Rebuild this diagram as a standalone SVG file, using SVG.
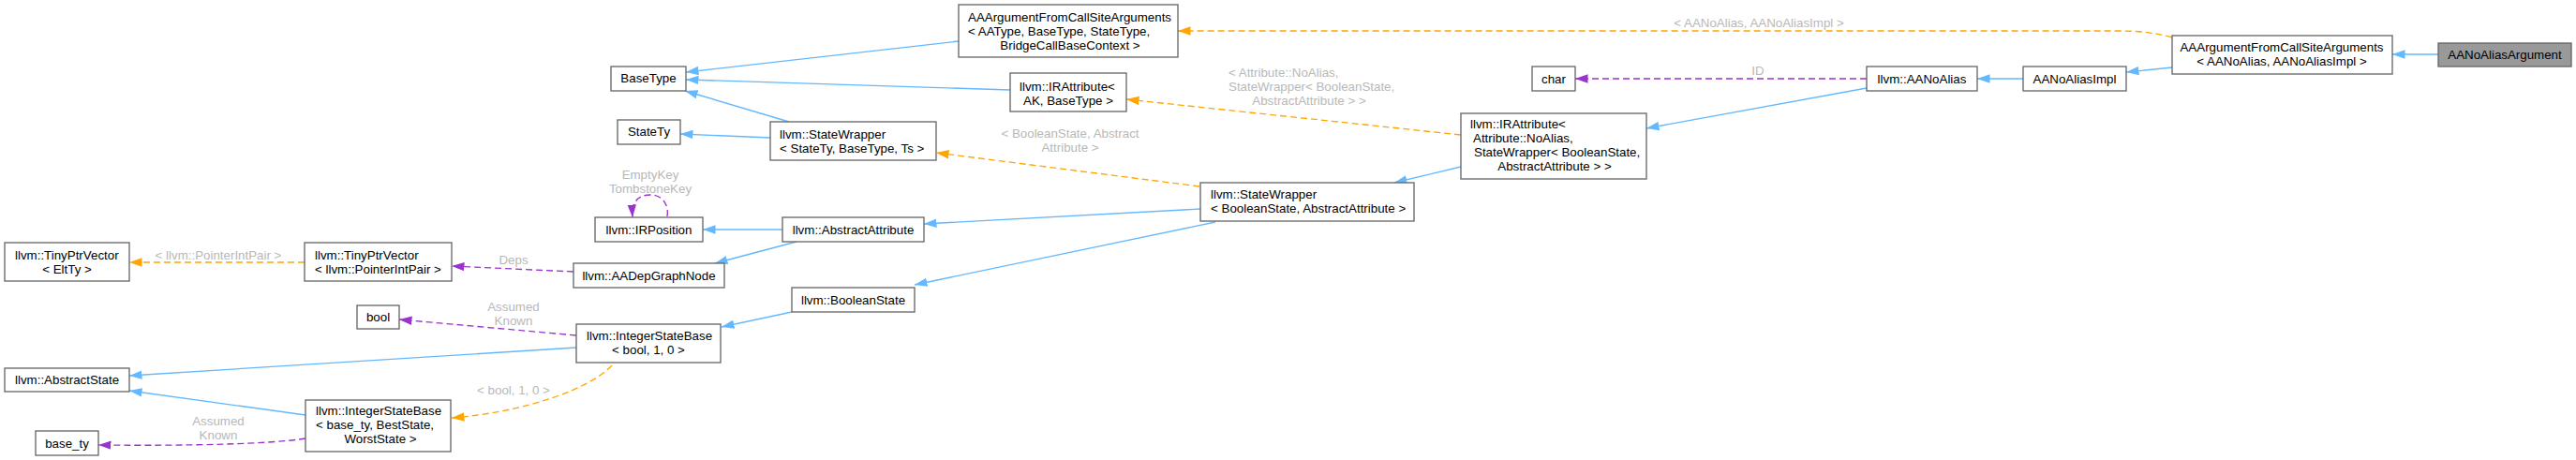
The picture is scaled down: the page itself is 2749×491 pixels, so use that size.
<svg xmlns="http://www.w3.org/2000/svg" width="2749" height="491" viewBox="0 0 2749 491">
<style>
text{font-family:"Liberation Sans",Arial,Helvetica,sans-serif;font-size:13.33px;fill:#000}
.n rect{fill:#fff;stroke:#666;stroke-width:1.33}
.n.hl rect{fill:#999}
.c{text-anchor:middle}
.lbl{fill:#b8b8b8;font-size:13.33px}
.e path{fill:none;stroke-width:1.33}
.b{stroke:#63b8ff}
.o{stroke:#ffa500;stroke-dasharray:7,4}
.p{stroke:#9a32cd;stroke-dasharray:7,4}
</style>
<defs>
<marker id="ab" markerUnits="userSpaceOnUse" markerWidth="14" markerHeight="10" viewBox="0 0 14 10" refX="13.5" refY="5" orient="auto"><path d="M0,0.3 L13.5,5 L0,9.7 z" fill="#63b8ff"/></marker>
<marker id="ao" markerUnits="userSpaceOnUse" markerWidth="14" markerHeight="10" viewBox="0 0 14 10" refX="13.5" refY="5" orient="auto"><path d="M0,0.3 L13.5,5 L0,9.7 z" fill="#ffa500"/></marker>
<marker id="ap" markerUnits="userSpaceOnUse" markerWidth="14" markerHeight="10" viewBox="0 0 14 10" refX="13.5" refY="5" orient="auto"><path d="M0,0.3 L13.5,5 L0,9.7 z" fill="#9a32cd"/></marker>
</defs>
<rect width="2749" height="491" fill="#fff"/>
<g id="connectors" class="e">
<path class="b" d="M2602,58 L2553,58" marker-end="url(#ab)"/>
<path class="b" d="M2318,72 L2269,77" marker-end="url(#ab)"/>
<path class="b" d="M2159,84 L2110,84" marker-end="url(#ab)"/>
<path class="b" d="M1992,94 L1757,137" marker-end="url(#ab)"/>
<path class="p" d="M1992,84 L1681,84" marker-end="url(#ap)"/>
<path class="o" d="M2318,40 C2300,35 2285,33 2260,33 L1257,33" marker-end="url(#ao)"/>
<path class="b" d="M1559,178 L1488,195" marker-end="url(#ab)"/>
<path class="o" d="M1559,144 L1202,106" marker-end="url(#ao)"/>
<path class="o" d="M1280,199 L999,163" marker-end="url(#ao)"/>
<path class="b" d="M1281,223 L986,239" marker-end="url(#ab)"/>
<path class="b" d="M1297,237 L976,304" marker-end="url(#ab)"/>
<path class="b" d="M1023,44 L732,77" marker-end="url(#ab)"/>
<path class="b" d="M1078,96 L732,85" marker-end="url(#ab)"/>
<path class="b" d="M842,130 L731,97" marker-end="url(#ab)"/>
<path class="b" d="M822,147 L726,143" marker-end="url(#ab)"/>
<path class="b" d="M835,245 L750,245" marker-end="url(#ab)"/>
<path class="b" d="M850,258 L763,281" marker-end="url(#ab)"/>
<path class="p" d="M612,290 L482,284" marker-end="url(#ap)"/>
<path class="o" d="M325,280 L138,280" marker-end="url(#ao)"/>
<path class="b" d="M845,333 L770,349" marker-end="url(#ab)"/>
<path class="p" d="M615,358 L426,341" marker-end="url(#ap)"/>
<path class="b" d="M615,371 L138,401" marker-end="url(#ab)"/>
<path class="o" d="M653,390 C630,415 560,440 482,446" marker-end="url(#ao)"/>
<path class="b" d="M326,443 L138,417" marker-end="url(#ab)"/>
<path class="p" d="M326,468 C290,474 200,476 105,475" marker-end="url(#ap)"/>
<path class="p" d="M712,231 C714,220 708,208 694,208 C682,208 674,214 675,232" marker-end="url(#ap)"/>
<text class="lbl c" x="1877" y="29">&lt; AANoAlias, AANoAliasImpl &gt;</text>
<text class="lbl c" x="1876" y="80">ID</text>
<text class="lbl" x="1311" y="82">&lt; Attribute::NoAlias,</text>
<text class="lbl" x="1311" y="97">StateWrapper&lt; BooleanState,</text>
<text class="lbl c" x="1397" y="112">AbstractAttribute &gt; &gt;</text>
<text class="lbl c" x="1142" y="147">&lt; BooleanState, Abstract</text>
<text class="lbl c" x="1142" y="162">Attribute &gt;</text>
<text class="lbl c" x="694" y="191">EmptyKey</text>
<text class="lbl c" x="694" y="206">TombstoneKey</text>
<text class="lbl c" x="548" y="282">Deps</text>
<text class="lbl c" x="233" y="277">&lt; llvm::PointerIntPair &gt;</text>
<text class="lbl c" x="548" y="332">Assumed</text>
<text class="lbl c" x="548" y="347">Known</text>
<text class="lbl c" x="548" y="421">&lt; bool, 1, 0 &gt;</text>
<text class="lbl c" x="233" y="454">Assumed</text>
<text class="lbl c" x="233" y="469">Known</text>
</g>
<g id="AANoAliasArgument" class="n hl"><rect x="2602" y="46" width="142" height="25"/><text class="c" x="2673" y="63">AANoAliasArgument</text></g>
<g id="AAArgFromCSA_AANoAlias" class="n"><rect x="2318" y="38" width="235" height="41"/><text class="c" x="2435" y="55">AAArgumentFromCallSiteArguments</text><text class="c" x="2435" y="70">&lt; AANoAlias, AANoAliasImpl &gt;</text></g>
<g id="AANoAliasImpl" class="n"><rect x="2159" y="71" width="110" height="26"/><text class="c" x="2214" y="89">AANoAliasImpl</text></g>
<g id="llvm_AANoAlias" class="n"><rect x="1992" y="71" width="118" height="26"/><text class="c" x="2051" y="89">llvm::AANoAlias</text></g>
<g id="AAArgFromCSA_generic" class="n"><rect x="1023" y="5" width="234" height="56"/><text x="1033" y="23">AAArgumentFromCallSiteArguments</text><text x="1033" y="38">&lt; AAType, BaseType, StateType,</text><text class="c" x="1142" y="53">BridgeCallBaseContext &gt;</text></g>
<g id="char" class="n"><rect x="1635" y="71" width="46" height="26"/><text class="c" x="1658" y="89">char</text></g>
<g id="IRAttribute_NoAlias" class="n"><rect x="1559" y="121" width="198" height="70"/><text x="1569" y="137">llvm::IRAttribute&lt;</text><text x="1572" y="152">Attribute::NoAlias,</text><text x="1573" y="167">StateWrapper&lt; BooleanState,</text><text class="c" x="1659" y="182">AbstractAttribute &gt; &gt;</text></g>
<g id="IRAttribute_AK" class="n"><rect x="1078" y="78" width="124" height="41"/><text x="1088" y="97">llvm::IRAttribute&lt;</text><text class="c" x="1140" y="112">AK, BaseType &gt;</text></g>
<g id="StateWrapper_BooleanState" class="n"><rect x="1281" y="195" width="228" height="41"/><text x="1292" y="212">llvm::StateWrapper</text><text x="1292" y="227">&lt; BooleanState, AbstractAttribute &gt;</text></g>
<g id="BaseType" class="n"><rect x="652" y="71" width="80" height="26"/><text class="c" x="692" y="88">BaseType</text></g>
<g id="StateTy" class="n"><rect x="659" y="128" width="67" height="26"/><text class="c" x="692.5" y="145">StateTy</text></g>
<g id="StateWrapper_StateTy" class="n"><rect x="822" y="130" width="177" height="41"/><text x="832" y="148">llvm::StateWrapper</text><text x="832" y="163">&lt; StateTy, BaseType, Ts &gt;</text></g>
<g id="IRPosition" class="n"><rect x="635" y="232" width="115" height="26"/><text class="c" x="692.5" y="250">llvm::IRPosition</text></g>
<g id="AbstractAttribute" class="n"><rect x="835" y="232" width="151" height="26"/><text class="c" x="910.5" y="250">llvm::AbstractAttribute</text></g>
<g id="AADepGraphNode" class="n"><rect x="612" y="281" width="161" height="26"/><text class="c" x="692.5" y="299">llvm::AADepGraphNode</text></g>
<g id="BooleanState" class="n"><rect x="845" y="307" width="131" height="26"/><text class="c" x="910.5" y="325">llvm::BooleanState</text></g>
<g id="TinyPtrVector_EltTy" class="n"><rect x="5" y="259" width="133" height="41"/><text x="16" y="277">llvm::TinyPtrVector</text><text class="c" x="71.5" y="292">&lt; EltTy &gt;</text></g>
<g id="TinyPtrVector_PIP" class="n"><rect x="325" y="259" width="157" height="41"/><text x="336" y="277">llvm::TinyPtrVector</text><text x="336" y="292">&lt; llvm::PointerIntPair &gt;</text></g>
<g id="bool" class="n"><rect x="381" y="326" width="45" height="25"/><text class="c" x="403.5" y="343">bool</text></g>
<g id="IntegerStateBase_bool" class="n"><rect x="615" y="346" width="154" height="41"/><text x="626" y="363">llvm::IntegerStateBase</text><text class="c" x="692" y="378">&lt; bool, 1, 0 &gt;</text></g>
<g id="AbstractState" class="n"><rect x="5" y="393" width="133" height="25"/><text x="16" y="410">llvm::AbstractState</text></g>
<g id="IntegerStateBase_base_ty" class="n"><rect x="326" y="427" width="155" height="55"/><text x="337" y="443">llvm::IntegerStateBase</text><text x="337" y="458">&lt; base_ty, BestState,</text><text class="c" x="406" y="473">WorstState &gt;</text></g>
<g id="base_ty" class="n"><rect x="38" y="460" width="67" height="26"/><text class="c" x="71.5" y="478">base_ty</text></g>
</svg>
